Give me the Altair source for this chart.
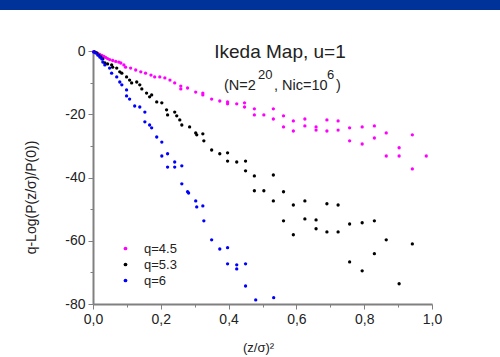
import altair as alt
import pandas as pd

# ---- data ----
series_names = ["q=4.5", "q=5.3", "q=6"]
series_colors = ["#FF00FF", "#000000", "#0000FF"]

m_x = [0.002,0.008,0.014,0.020,0.026,0.032,0.037,0.043,0.049,0.058,
       0.067,0.076,0.082,0.091,0.096,0.111,0.126,0.141,0.155,0.171,
       0.182,0.197,0.212,0.227,0.241,0.259,0.259,0.279,0.303,0.324,
       0.324,0.350,0.374,0.397,0.397,0.424,0.447,0.447,0.476,0.476,
       0.504,0.532,0.532,0.562,0.562,0.591,0.591,0.625,0.625,0.658,
       0.658,0.690,0.690,0.723,0.723,0.757,0.757,0.794,0.794,0.830,
       0.830,0.865,0.865,0.903,0.903,0.942,0.942,0.983]
m_y = [-0.2,-0.5,-0.8,-1.1,-1.4,-1.7,-2.0,-2.4,-2.7,-3.0,
       -3.3,-3.5,-3.8,-4.4,-5.1,-5.4,-6.0,-6.6,-7.0,-7.6,
       -8.2,-8.2,-8.5,-9.2,-10.1,-11.1,-12.0,-11.7,-13.0,-13.3,
       -13.9,-15.2,-15.8,-16.1,-16.7,-16.7,-16.4,-17.7,-18.3,-20.2,
       -20.2,-18.3,-21.5,-20.5,-24.0,-22.1,-25.3,-21.5,-23.7,-24.0,
       -25.0,-21.8,-25.3,-22.1,-25.0,-24.3,-28.4,-24.0,-29.4,-23.7,
       -27.5,-25.9,-33.2,-30.6,-33.2,-26.5,-37.3,-33.2]

k_x = [0.005,0.011,0.017,0.023,0.029,0.035,0.043,0.055,0.058,0.070,
       0.079,0.085,0.099,0.108,0.114,0.129,0.138,0.144,0.158,0.167,
       0.173,0.188,0.203,0.217,0.220,0.241,0.247,0.256,0.262,0.285,
       0.303,0.306,0.324,0.327,0.350,0.374,0.397,0.397,0.424,0.450,
       0.450,0.476,0.476,0.504,0.532,0.532,0.562,0.562,0.591,0.591,
       0.625,0.625,0.658,0.658,0.690,0.690,0.723,0.723,0.757,0.757,
       0.794,0.794,0.830,0.830,0.865,0.903,0.942]
k_y = [-0.3,-0.6,-1.3,-1.9,-2.5,-3.8,-4.1,-4.4,-5.1,-5.4,
       -6.6,-7.0,-8.2,-9.2,-10.1,-9.8,-10.7,-12.0,-13.3,-14.5,
       -13.9,-16.1,-16.4,-18.6,-20.2,-19.3,-20.5,-21.8,-23.4,-24.0,
       -25.9,-26.5,-26.2,-28.4,-31.3,-32.5,-32.2,-34.8,-35.1,-34.8,
       -37.9,-39.5,-44.2,-44.2,-39.2,-47.4,-44.5,-53.7,-48.7,-58.1,
       -47.4,-53.1,-53.4,-56.2,-48.3,-57.2,-48.7,-57.2,-54.7,-66.7,
       -54.3,-69.5,-53.7,-64.1,-59.7,-73.6,-61.0]

b_x = [0.002,0.008,0.014,0.020,0.026,0.029,0.035,0.049,0.055,0.070,
       0.079,0.085,0.099,0.099,0.108,0.123,0.138,0.153,0.153,0.167,
       0.173,0.188,0.203,0.203,0.220,0.220,0.241,0.241,0.262,0.262,
       0.279,0.282,0.303,0.306,0.324,0.327,0.350,0.374,0.397,0.397,
       0.424,0.424,0.450,0.450,0.480,0.533]
b_y = [-0.3,-0.6,-1.3,-1.9,-2.5,-3.5,-4.4,-5.4,-7.0,-8.2,
       -9.8,-10.7,-12.3,-14.2,-15.2,-17.4,-17.7,-19.3,-22.4,-23.4,
       -24.3,-27.2,-28.8,-33.2,-32.5,-36.7,-35.1,-36.7,-36.3,-42.0,
       -44.5,-44.9,-47.4,-49.3,-49.0,-53.7,-59.7,-62.6,-62.2,-67.3,
       -67.6,-68.9,-67.3,-74.3,-78.7,-78.0]

x_ticks = [0.0,0.1,0.2,0.3,0.4,0.5,0.6,0.7,0.8,0.9,1.0]
y_ticks = [-80,-70,-60,-50,-40,-30,-20,-10,0]

rows = []
for name, xs, ys in [(series_names[0], m_x, m_y),
                     (series_names[1], k_x, k_y),
                     (series_names[2], b_x, b_y)]:
    for xv, yv in zip(xs, ys):
        rows.append({"z": xv, "lq": yv, "series": name})
df = pd.DataFrame(rows)

FONT = "Liberation Sans"
TXT = "#222222"
AX = "#808080"
W, H = 339, 253
PL, PT = 93, 51

x_axis = alt.Axis(
    values=x_ticks, title="(z/σ)²", labelOverlap=False, labelFlush=False,
    labelExpr="round(datum.value*10) % 2 == 0 ? replace(format(datum.value, '.1f'), '.', ',') : ''",
    tickSize={"condition": {"test": "round(datum.value*10) % 2 == 0", "value": 5}, "value": 3},
    labelPadding=3, titleX=165, titleY=47, titleAlign="center", titleBaseline="alphabetic",
    titleFontSize=13,
)
y_axis = alt.Axis(
    values=y_ticks, title="q-Log(P(z/σ)/P(0))", labelOverlap=False, labelFlush=False,
    labelExpr="datum.value % 20 == 0 ? (datum.value < 0 ? '-' : '') + abs(datum.value) : ''",
    tickSize={"condition": {"test": "datum.value % 20 == 0", "value": 5}, "value": 3},
    labelPadding=3, titleX=-58, titleY=146, titleAlign="center", titleBaseline="alphabetic",
    titleAngle=270, titleFontSize=14,
)

points = alt.Chart(df).mark_circle(size=11, opacity=1).encode(
    x=alt.X("z:Q", scale=alt.Scale(domain=[0, 1], nice=False, zero=False), axis=x_axis),
    y=alt.Y("lq:Q", scale=alt.Scale(domain=[-80, 0], nice=False), axis=y_axis),
    color=alt.Color("series:N",
                    scale=alt.Scale(domain=series_names, range=series_colors),
                    legend=alt.Legend(title=None, orient="none", legendX=26, legendY=191,
                                      symbolType="circle", symbolSize=14, labelOffset=12,
                                      labelFontSize=13, labelFont=FONT, labelColor=TXT,
                                      rowPadding=2, padding=0)),
)

one = pd.DataFrame({"a": [0]})
band = alt.Chart(one).mark_rect(color="#003399").encode(
    x=alt.value(-PL), x2=alt.value(500 - PL), y=alt.value(-PT), y2=alt.value(10 - PT)
)

def txt(s, x, y, size, align="left"):
    return alt.Chart(one).mark_text(text=s, font=FONT, fontSize=size, color=TXT,
                                    align=align, baseline="alphabetic").encode(
        x=alt.value(x), y=alt.value(y))

title = txt("Ikeda Map, u=1", 187, 7, 19, "center")
sub1 = txt("(N=2", 131, 39, 14.5)
sub2 = txt("20", 165, 28, 13)
sub3 = txt(", Nic=10", 181, 39, 14.5)
sub4 = txt("6", 234, 28, 13)
sub5 = txt(")", 243, 39, 14.5)

chart = alt.layer(band, points, title, sub1, sub2, sub3, sub4, sub5).properties(
    width=W, height=H, autosize="none",
    padding={"left": PL, "top": PT, "right": 500 - PL - W, "bottom": 357 - PT - H},
    background="white",
).configure_view(stroke=None).configure_axis(
    grid=False, domainColor=AX, domainWidth=2, tickColor=AX, tickWidth=1,
    labelFont=FONT, labelFontSize=14, labelColor=TXT,
    titleFont=FONT, titleFontWeight="normal", titleColor=TXT,
)

chart.save("out.html", embed_options={"renderer": "svg", "actions": False})
